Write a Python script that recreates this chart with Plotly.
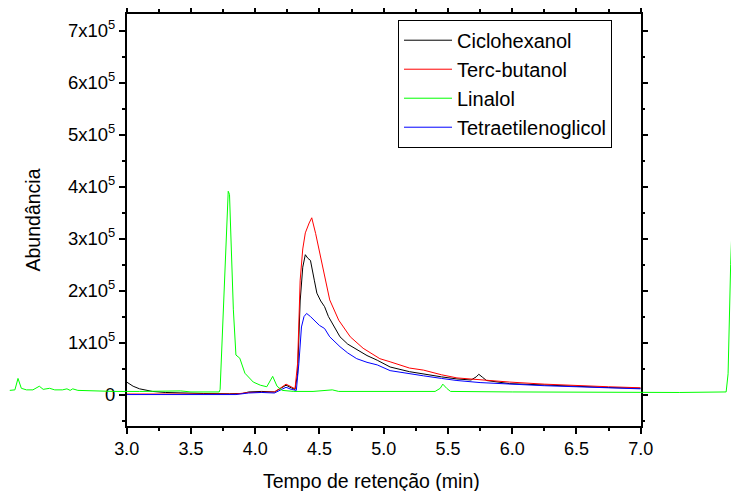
import plotly.graph_objects as go

# ---- data ----
cic_x = [3.00, 3.05, 3.10, 3.20, 3.30, 3.40, 3.60, 3.80, 3.90, 3.95, 4.05, 4.15, 4.20, 4.24, 4.28, 4.31,
         4.33, 4.35, 4.37, 4.39, 4.41, 4.43, 4.46, 4.48, 4.51, 4.54, 4.57, 4.60, 4.66, 4.72, 4.79, 4.87,
         4.95, 5.05, 5.20, 5.31, 5.45, 5.57, 5.68, 5.72, 5.74, 5.77, 5.80, 5.98, 6.25, 6.50, 6.75, 7.00]
cic_y = [24000, 16000, 11000, 6000, 4000, 3000, 2000, 1500, 2000, 5000, 6000, 5000, 12000, 18000, 13000, 10000,
         40000, 180000, 245000, 269000, 262000, 258000, 220000, 195000, 180000, 169000, 150000, 137000, 111000, 97000, 86000, 75000,
         66000, 53000, 44000, 39000, 34000, 30000, 28000, 34000, 39000, 33000, 27000, 21000, 18000, 15500, 13500, 12000]

ter_x = [3.00, 3.50, 3.85, 3.95, 4.05, 4.15, 4.20, 4.24, 4.28, 4.31, 4.33, 4.35, 4.37, 4.39, 4.42, 4.44,
         4.47, 4.52, 4.55, 4.58, 4.65, 4.74, 4.84, 4.97, 5.05, 5.20, 5.31, 5.45, 5.57, 5.75, 5.98, 6.25,
         6.50, 6.75, 7.00]
ter_y = [1000, 1000, 1000, 4000, 5000, 5000, 13000, 20000, 15000, 11000, 60000, 220000, 280000, 311000, 330000, 340000,
         310000, 253000, 215000, 182000, 143000, 111000, 89000, 69000, 63000, 51000, 47000, 38000, 32000, 28000, 24000, 20000,
         17000, 15000, 13000]

lin_x = [2.09, 2.13, 2.154, 2.18, 2.22, 2.27, 2.32, 2.35, 2.40, 2.44, 2.50, 2.535, 2.56, 2.58, 2.62, 2.75,
         2.90, 3.10, 3.30, 3.42, 3.50, 3.72, 3.727, 3.76, 3.79, 3.80, 3.83, 3.85, 3.88, 3.92, 3.985, 4.04,
         4.09, 4.136, 4.17, 4.21, 4.30, 4.45, 4.60, 4.65, 5.00, 5.40, 5.44, 5.46, 5.49, 5.52, 6.00, 6.50,
         7.00, 7.30, 7.665, 7.68, 7.70, 7.735, 7.765]
lin_y = [8000, 9000, 31000, 12000, 9000, 9000, 16000, 10000, 12000, 9000, 9000, 11000, 8000, 11000, 8000, 7000,
         6000, 6000, 6000, 7000, 5000, 5000, 10000, 220000, 391000, 385000, 163000, 76000, 70000, 41000, 24000, 18000,
         15000, 35000, 16000, 8000, 6000, 6000, 9000, 6000, 6000, 6000, 12000, 20000, 12000, 6000, 5000, 4500,
         4000, 4000, 5000, 40000, 250000, 492000, 150000]

tet_x = [3.00, 3.50, 3.85, 3.95, 4.05, 4.15, 4.20, 4.24, 4.28, 4.32, 4.34, 4.36, 4.38, 4.40, 4.43, 4.47,
         4.50, 4.52, 4.54, 4.58, 4.66, 4.72, 4.79, 4.87, 4.95, 5.05, 5.20, 5.31, 5.45, 5.57, 5.75, 5.98,
         6.25, 6.50, 6.75, 7.00]
tet_y = [0, 0, 0, 3000, 4000, 3000, 9000, 14000, 10000, 8000, 60000, 130000, 150000, 156000, 150000, 140000,
         133000, 130000, 127000, 111000, 92000, 80000, 69000, 62000, 57000, 46000, 41000, 36000, 31000, 27000, 23000, 20000,
         17000, 15000, 13000, 11000]

y_tickvals = [0, 100000, 200000, 300000, 400000, 500000, 600000, 700000]
y_ticktext = ["0", "1x10<sup>5</sup>", "2x10<sup>5</sup>", "3x10<sup>5</sup>", "4x10<sup>5</sup>",
              "5x10<sup>5</sup>", "6x10<sup>5</sup>", "7x10<sup>5</sup>"]
x_tickvals = [3.0, 3.5, 4.0, 4.5, 5.0, 5.5, 6.0, 6.5, 7.0]
x_ticktext = ["3.0", "3.5", "4.0", "4.5", "5.0", "5.5", "6.0", "6.5", "7.0"]

# ---- layout geometry (page has an 8px body margin) ----
W, H = 723, 483
left_px, right_px = 118.7, 632.7
top_px, bottom_px = 6.3, 417.7
px_per_unit = (right_px - left_px) / 4.0
x2_lo = 3.0 - left_px / px_per_unit
x2_hi = 7.0 + (W - right_px) / px_per_unit
plot_h = bottom_px - top_px

FONT = "Liberation Sans, Arial, sans-serif"

fig = go.Figure()
fig.add_trace(go.Scatter(x=cic_x, y=cic_y, mode="lines", name="Ciclohexanol",
                         line=dict(color="#000000", width=1)))
fig.add_trace(go.Scatter(x=ter_x, y=ter_y, mode="lines", name="Terc-butanol",
                         line=dict(color="#ff0000", width=1)))
fig.add_trace(go.Scatter(x=lin_x, y=lin_y, mode="lines", name="Linalol", xaxis="x2", yaxis="y",
                         line=dict(color="#00ff00", width=1)))
fig.add_trace(go.Scatter(x=tet_x, y=tet_y, mode="lines", name="Tetraetilenoglicol",
                         line=dict(color="#0000ff", width=1)))

axis_common = dict(showgrid=False, zeroline=False, showline=True, linecolor="black", linewidth=1.5,
                   mirror="ticks", ticks="outside", tickcolor="black", tickwidth=1.5, ticklen=6)

fig.update_layout(
    width=W, height=H,
    margin=dict(l=0, r=0, t=top_px, b=H - bottom_px, autoexpand=False),
    paper_bgcolor="white", plot_bgcolor="rgba(0,0,0,0)",
    font=dict(family=FONT, color="black"),
    xaxis=dict(domain=[left_px / W, right_px / W], range=[3.0, 7.0], anchor="y",
               tickvals=x_tickvals, ticktext=x_ticktext, tickfont=dict(size=18),
               minor=dict(dtick=0.25, tick0=3.0, ticks="outside", ticklen=3, tickcolor="black", tickwidth=1.5),
               automargin=False, **axis_common),
    xaxis2=dict(domain=[0, 1], range=[x2_lo, x2_hi], anchor="y", visible=False,
                showgrid=False, zeroline=False),
    yaxis=dict(domain=[0, 1], range=[-60500, 732000], anchor="x",
               tickvals=y_tickvals, ticktext=y_ticktext, tickfont=dict(size=18.5),
               minor=dict(dtick=50000, tick0=0, ticks="outside", ticklen=3, tickcolor="black", tickwidth=1.5),
               title=dict(text="Abundância", font=dict(size=19.5), standoff=22),
               automargin=False, **axis_common),
    legend=dict(x=390 / W, xanchor="left", y=1 - (12 - top_px) / plot_h, yanchor="top",
                bordercolor="black", borderwidth=1, bgcolor="white",
                font=dict(size=20, family=FONT), itemwidth=48, tracegroupgap=0),
    annotations=[dict(text="Tempo de retenção (min)", xref="paper", yref="paper",
                      x=363.5 / W, y=-(473 - bottom_px) / plot_h, xanchor="center", yanchor="middle",
                      showarrow=False, font=dict(size=19.5, family=FONT))],
    showlegend=True,
)

fig.write_html("out.html")
